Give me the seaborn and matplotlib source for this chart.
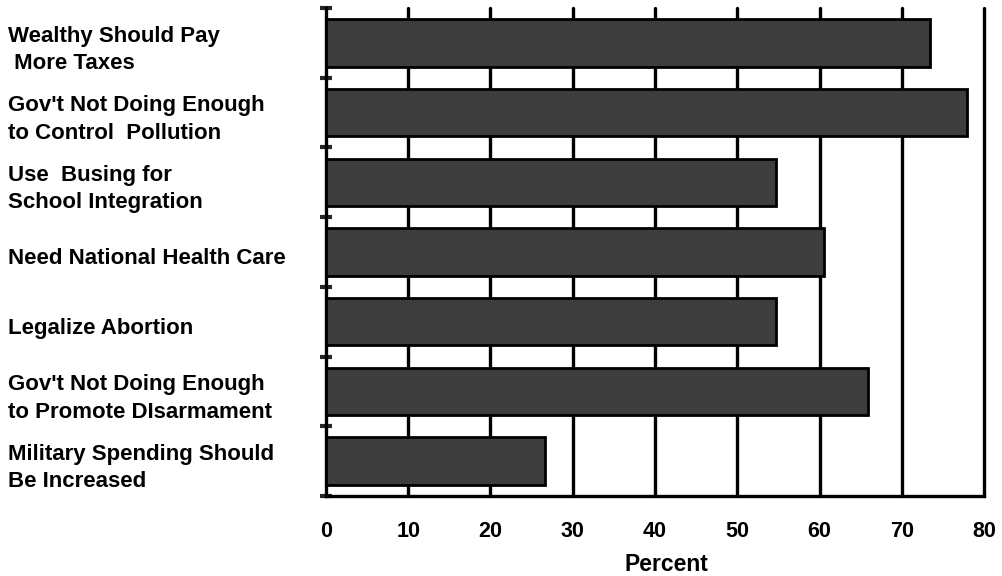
import matplotlib
matplotlib.use("Agg")
import matplotlib.pyplot as plt
import matplotlib.transforms as mtransforms
import seaborn as sns
import pandas as pd

# ----------------------------
# Data
# ----------------------------
issues = [
    "Wealthy Should Pay\n More Taxes",
    "Gov't Not Doing Enough\nto Control  Pollution",
    "Use  Busing for\nSchool Integration",
    "Need National Health Care",
    "Legalize Abortion",
    "Gov't Not Doing Enough\nto Promote DIsarmament",
    "Military Spending Should\nBe Increased",
]
percent = [73.4, 77.9, 54.7, 60.6, 54.7, 65.9, 26.6]
x_ticks = [0, 10, 20, 30, 40, 50, 60, 70, 80]

df = pd.DataFrame({"issue": issues, "percent": percent})

sns.set_style("white")
plt.rcParams["font.family"] = ["Liberation Sans", "DejaVu Sans"]
plt.rcParams["text.color"] = "black"
plt.rcParams["xtick.color"] = "black"
plt.rcParams["axes.labelcolor"] = "black"

fig = plt.figure(figsize=(10.03, 5.76), dpi=100)
ax = fig.add_axes([326 / 1003, 80 / 576, 658 / 1003, 488 / 576])

sns.barplot(data=df, x="percent", y="issue", orient="h", color="#3d3d3d",
            edgecolor="black", linewidth=2, width=0.68, saturation=1,
            zorder=3, ax=ax)

ax.set_xlim(0, 80)
ax.set_ylim(6.5, -0.5)

# black vertical gridlines behind the bars
for xv in x_ticks[1:]:
    ax.axvline(xv, color="black", linewidth=2.4, zorder=1, clip_on=False)

for side in ["top", "right"]:
    ax.spines[side].set_visible(False)
for side in ["left", "bottom"]:
    ax.spines[side].set_color("black")
    ax.spines[side].set_linewidth(2.4)

ax.set_xticks(x_ticks)
ax.set_xticklabels([str(v) for v in x_ticks], fontsize=15.5, fontweight="bold")
ax.tick_params(axis="x", direction="inout", length=8, width=2, pad=14, colors="black")

# category boundaries as minor ticks on the left spine
ax.set_yticks([i - 0.5 for i in range(len(issues) + 1)], minor=True)
ax.tick_params(axis="y", which="minor", direction="inout", length=9, width=3, left=True)
ax.tick_params(axis="y", which="major", length=0)
ax.set_yticklabels([])

# category labels, left aligned at the figure edge
label_tr = mtransforms.blended_transform_factory(fig.transFigure, ax.transData)
label_tr = label_tr + mtransforms.ScaledTranslation(0, -7 / 100, fig.dpi_scale_trans)
for i, name in enumerate(issues):
    ax.text(8 / 1003, i, name, transform=label_tr, ha="left", va="center",
            fontsize=16, fontweight="bold", linespacing=1.4, color="black")

ax.set_ylabel("")
ax.set_xlabel("Percent", fontsize=16.5, fontweight="bold")
ax.xaxis.set_label_coords(0.517, -0.141)
ax.xaxis.label.set_va("center")

fig.savefig("out.png", dpi=100)
